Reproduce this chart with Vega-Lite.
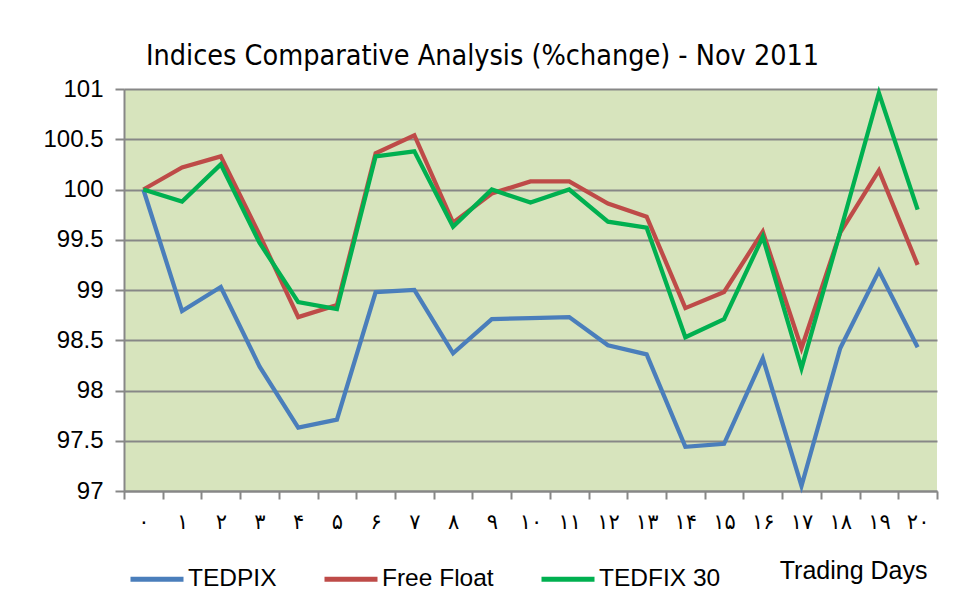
{
  "$schema": "https://vega.github.io/schema/vega-lite/v6.json",
  "width": 813,
  "height": 402,
  "autosize": {"type": "none"},
  "padding": {"left": 124, "top": 89, "right": 19, "bottom": 107},
  "background": "white",
  "title": {
    "text": "Indices Comparative Analysis (%change) - Nov 2011",
    "font": "DejaVu Sans Condensed",
    "fontSize": 28.5,
    "fontWeight": "normal",
    "color": "black",
    "anchor": "start",
    "frame": "group",
    "dx": 22,
    "dy": 33,
    "baseline": "alphabetic",
    "offset": 17
  },
  "data": {
    "values": [
      {"day": "۰", "TEDPIX": 100, "Free Float": 100, "TEDFIX 30": 100},
      {"day": "۱", "TEDPIX": 98.79, "Free Float": 100.22, "TEDFIX 30": 99.88},
      {"day": "۲", "TEDPIX": 99.03, "Free Float": 100.33, "TEDFIX 30": 100.25},
      {"day": "۳", "TEDPIX": 98.24, "Free Float": 99.55, "TEDFIX 30": 99.47},
      {"day": "۴", "TEDPIX": 97.63, "Free Float": 98.73, "TEDFIX 30": 98.88},
      {"day": "۵", "TEDPIX": 97.71, "Free Float": 98.85, "TEDFIX 30": 98.81},
      {"day": "۶", "TEDPIX": 98.98, "Free Float": 100.36, "TEDFIX 30": 100.33},
      {"day": "۷", "TEDPIX": 99.0, "Free Float": 100.54, "TEDFIX 30": 100.38},
      {"day": "۸", "TEDPIX": 98.37, "Free Float": 99.67, "TEDFIX 30": 99.63},
      {"day": "۹", "TEDPIX": 98.71, "Free Float": 99.96, "TEDFIX 30": 100.0},
      {"day": "۱۰", "TEDPIX": 98.72, "Free Float": 100.08, "TEDFIX 30": 99.87},
      {"day": "۱۱", "TEDPIX": 98.73, "Free Float": 100.08, "TEDFIX 30": 100.0},
      {"day": "۱۲", "TEDPIX": 98.45, "Free Float": 99.86, "TEDFIX 30": 99.68},
      {"day": "۱۳", "TEDPIX": 98.36, "Free Float": 99.73, "TEDFIX 30": 99.62},
      {"day": "۱۴", "TEDPIX": 97.44, "Free Float": 98.82, "TEDFIX 30": 98.53},
      {"day": "۱۵", "TEDPIX": 97.47, "Free Float": 98.98, "TEDFIX 30": 98.71},
      {"day": "۱۶", "TEDPIX": 98.32, "Free Float": 99.58, "TEDFIX 30": 99.53},
      {"day": "۱۷", "TEDPIX": 97.05, "Free Float": 98.42, "TEDFIX 30": 98.22},
      {"day": "۱۸", "TEDPIX": 98.42, "Free Float": 99.57, "TEDFIX 30": 99.58},
      {"day": "۱۹", "TEDPIX": 99.19, "Free Float": 100.19, "TEDFIX 30": 100.96},
      {"day": "۲۰", "TEDPIX": 98.43, "Free Float": 99.25, "TEDFIX 30": 99.8}
    ]
  },
  "transform": [
    {"fold": ["TEDPIX", "Free Float", "TEDFIX 30"], "as": ["series", "value"]}
  ],
  "mark": {"type": "line", "strokeWidth": 4.25},
  "encoding": {
    "x": {
      "field": "day",
      "type": "nominal",
      "sort": null,
      "scale": {"type": "band", "paddingInner": 0, "paddingOuter": 0},
      "axis": {
        "title": "Trading Days",
        "titleFont": "Liberation Sans",
        "titleFontSize": 25,
        "titleFontWeight": "normal",
        "titleColor": "black",
        "titleX": 803,
        "titleY": 79,
        "titleAlign": "right",
        "titleBaseline": "middle",
        "tickBand": "extent",
        "labelAngle": 0,
        "labelFont": "DejaVu Sans",
        "labelFontSize": 21,
        "labelColor": "black",
        "labelPadding": 12,
        "tickSize": 8,
        "tickColor": "#878787",
        "tickWidth": 2,
        "domainColor": "#878787",
        "domainWidth": 2,
        "grid": false
      }
    },
    "y": {
      "field": "value",
      "type": "quantitative",
      "scale": {"domain": [97, 101], "nice": false, "zero": false},
      "axis": {
        "title": null,
        "values": [97, 97.5, 98, 98.5, 99, 99.5, 100, 100.5, 101],
        "format": "~f",
        "labelFont": "Liberation Sans",
        "labelFontSize": 24,
        "labelColor": "black",
        "labelPadding": 12,
        "tickSize": 9,
        "tickColor": "#878787",
        "tickWidth": 2,
        "domainColor": "#878787",
        "domainWidth": 2,
        "grid": true,
        "gridColor": "#878787",
        "gridWidth": 2
      }
    },
    "color": {
      "field": "series",
      "type": "nominal",
      "sort": ["TEDPIX", "Free Float", "TEDFIX 30"],
      "scale": {
        "domain": ["TEDPIX", "Free Float", "TEDFIX 30"],
        "range": ["#4A7EBB", "#BE4B48", "#00B050"]
      },
      "legend": {
        "title": null,
        "orient": "none",
        "legendX": 4,
        "legendY": 461,
        "direction": "horizontal",
        "symbolType": "stroke",
        "symbolSize": 2809,
        "symbolStrokeWidth": 5,
        "labelFont": "Liberation Sans",
        "labelFontSize": 24.5,
        "labelColor": "black",
        "labelOffset": 2,
        "columnPadding": 37,
        "padding": 0
      }
    }
  },
  "config": {
    "view": {"fill": "#D7E4BD", "stroke": null}
  }
}
